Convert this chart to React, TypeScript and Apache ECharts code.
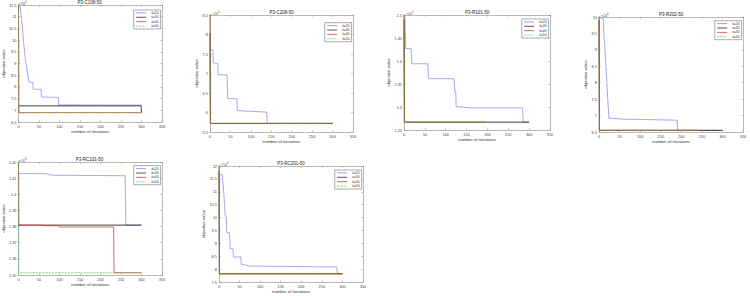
import React, { useEffect, useRef } from "react";
import * as echarts from "echarts";

type Pt = [number, number];

// ---------- texts ----------
const titles = ["P3-C108-50", "P3-C208-50", "P3-R101-50", "P3-R202-50", "P3-RC101-50", "P3-RC201-50"];
const seriesNames = ["it=20", "it=30", "it=40", "it=50"];
const exponents = ["4", "4", "5", "4", "5", "4"];
const xName = "number of iterations";
const yName = "objective value";

// ---------- axes ----------
const xMin = 0;
const xMax = 350;
const xStep = 50;
const yMin = [6.5, 5.5, 1.25, 6.5, 1.35, 7.5];
const yMax = [11.5, 8.5, 1.5, 10, 1.42, 12];
const yStep = [0.5, 0.5, 0.05, 0.5, 0.01, 0.5];

// ---------- data: [iteration, objective value (scaled)] ----------
// P3-C108-50 (x10^4)
const c108_it20: Pt[] = [[0, 11.5], [4, 11.45], [8, 10.8], [12, 10.0], [16, 9.3], [20, 8.8], [23, 8.5], [26, 8.2], [35, 8.2], [36, 7.9], [55, 7.9], [56, 7.57], [97, 7.55], [98, 7.23], [300, 7.22]];
const c108_it30: Pt[] = [[0, 7.19], [299, 7.19], [300, 6.9]];
const c108_it40: Pt[] = [[0, 11.8], [1, 6.9], [300, 6.9]];
const c108_it50: Pt[] = [[0, 11.8], [1, 6.9], [300, 6.9]];

// P3-C208-50 (x10^4)
const c208_it20: Pt[] = [[0, 7.62], [7, 7.6], [8, 7.27], [19, 7.26], [20, 6.97], [42, 6.96], [43, 6.36], [66, 6.35], [67, 6.05], [100, 6.03], [139, 6.01], [140, 5.72], [300, 5.72]];
const c208_it30: Pt[] = [[0, 8.03], [1, 5.72], [300, 5.72]];
const c208_it40: Pt[] = [[0, 8.6], [1, 5.72], [300, 5.72]];
const c208_it50: Pt[] = [[0, 8.6], [1, 5.72], [300, 5.72]];

// P3-R101-50 (x10^5)
const r101_it20: Pt[] = [[0, 1.5], [2, 1.5], [4, 1.427], [17, 1.427], [19, 1.394], [57, 1.394], [59, 1.3615], [120, 1.3615], [122, 1.332], [124, 1.332], [125, 1.301], [158, 1.298], [284, 1.298], [286, 1.267], [300, 1.267]];
const r101_it30: Pt[] = [[0, 1.49], [1, 1.267], [300, 1.267]];
const r101_it40: Pt[] = [[0, 1.52], [1, 1.267], [197, 1.267]];
const r101_it50: Pt[] = [[0, 1.52], [1, 1.267], [197, 1.267]];

// P3-R202-50 (x10^4)
const r202_it20: Pt[] = [[0, 9.97], [10, 9.97], [24, 6.92], [60, 6.89], [190, 6.86], [191, 6.55], [300, 6.55]];
const r202_it30: Pt[] = [[0, 9.9], [1, 6.55], [300, 6.55]];
const r202_it40: Pt[] = [[0, 10.1], [1, 6.55], [245, 6.55]];
const r202_it50: Pt[] = [[0, 10.1], [1, 6.55], [245, 6.55]];

// P3-RC101-50 (x10^5)
const rc101_it20: Pt[] = [[0, 1.4128], [67, 1.4128], [75, 1.4122], [83, 1.4118], [260, 1.4115], [262, 1.3809], [300, 1.3809]];
const rc101_it30: Pt[] = [[0, 1.3809], [300, 1.3809]];
const rc101_it40: Pt[] = [[0, 1.43], [1, 1.3809], [59, 1.3809], [60, 1.3805], [99, 1.3805], [100, 1.3797], [232, 1.3797], [233, 1.3514], [300, 1.3514]];
const rc101_it50: Pt[] = [[0, 1.43], [1, 1.3514], [300, 1.3514]];

// P3-RC201-50 (x10^4)
const rc201_it20: Pt[] = [[0, 11.66], [8, 11.66], [12, 10.9], [15, 10.1], [18, 10.0], [19, 9.41], [26, 9.41], [27, 8.79], [34, 8.79], [35, 8.47], [53, 8.47], [54, 8.19], [75, 8.12], [286, 8.08], [288, 7.82], [300, 7.82]];
const rc201_it30: Pt[] = [[0, 11.8], [1, 7.82], [300, 7.82]];
const rc201_it40: Pt[] = [[0, 12.2], [1, 7.82], [300, 7.82]];
const rc201_it50: Pt[] = [[0, 12.2], [1, 7.82], [300, 7.82]];

const panels: Pt[][][] = [
  [c108_it20, c108_it30, c108_it40, c108_it50],
  [c208_it20, c208_it30, c208_it40, c208_it50],
  [r101_it20, r101_it30, r101_it40, r101_it50],
  [r202_it20, r202_it30, r202_it40, r202_it50],
  [rc101_it20, rc101_it30, rc101_it40, rc101_it50],
  [rc201_it20, rc201_it30, rc201_it40, rc201_it50],
];

// ---------- layout & styles ----------
const W = 750;
const H = 296;
const FONT = "'Liberation Sans', Arial, Helvetica, sans-serif";
const layout = [
  { left: 17, top: 5, width: 145, height: 117, legendTop: 10, yGap: 12 },
  { left: 210, top: 15, width: 143, height: 117, legendTop: 22.7, yGap: 6.5 },
  { left: 404, top: 15, width: 146, height: 115, legendTop: 19, yGap: 10 },
  { left: 599, top: 17, width: 144, height: 115, legendTop: 20.7, yGap: 6 },
  { left: 17, top: 162, width: 145, height: 113, legendTop: 165.7, yGap: 12 },
  { left: 219, top: 166, width: 144, height: 116, legendTop: 170, yGap: 13 },
];
const lineStyles = [
  { color: "#8383e6", width: 0.7, type: "solid" as any },
  { color: "#2a2a2a", width: 0.9, type: "solid" as any },
  { color: "#e5403a", width: 0.8, type: "solid" as any },
  { color: "#38c038", width: 0.8, type: [2, 1.2] as any },
];
const AXIS_COLOR = "#8c8c8c";
const LABEL_COLOR = "#444";

function buildOption() {
  const grid: any[] = [];
  const xAxis: any[] = [];
  const yAxis: any[] = [];
  const series: any[] = [];
  const legend: any[] = [];
  const graphic: any[] = [];

  const axisLine = { show: true, onZero: false, lineStyle: { color: AXIS_COLOR, width: 0.6 } };
  const axisTick = { show: true, inside: true, length: 1.8, lineStyle: { color: AXIS_COLOR, width: 0.5 } };
  const axisLabel = { fontSize: 3.9, color: LABEL_COLOR, margin: 2, fontFamily: FONT };
  const nameTextStyle = { fontSize: 4.3, color: "#333", fontFamily: FONT };

  layout.forEach((g, i) => {
    grid.push({ left: g.left, top: g.top, width: g.width, height: g.height, containLabel: false, show: false });
    xAxis.push({
      type: "value", gridIndex: i, position: "bottom", min: xMin, max: xMax, interval: xStep,
      axisLine, axisTick, axisLabel, splitLine: { show: false },
      name: xName, nameLocation: "middle", nameGap: 7.5, nameTextStyle,
    });
    xAxis.push({
      type: "value", gridIndex: i, position: "top", min: xMin, max: xMax, interval: xStep,
      axisLine, axisTick, axisLabel: { show: false }, splitLine: { show: false },
    });
    yAxis.push({
      type: "value", gridIndex: i, position: "left", min: yMin[i], max: yMax[i], interval: yStep[i],
      axisLine, axisTick, axisLabel, splitLine: { show: false },
      name: yName, nameLocation: "middle", nameGap: g.yGap, nameTextStyle,
    });
    yAxis.push({
      type: "value", gridIndex: i, position: "right", min: yMin[i], max: yMax[i], interval: yStep[i],
      axisLine, axisTick, axisLabel: { show: false }, splitLine: { show: false },
    });

    panels[i].forEach((pts, s) => {
      const ls = lineStyles[s];
      series.push({
        type: "line", name: seriesNames[s], xAxisIndex: i * 2, yAxisIndex: i * 2,
        data: pts, symbol: "none", showSymbol: false, silent: true, z: 2 + s,
        color: ls.color,
        itemStyle: { color: ls.color },
        lineStyle: { color: ls.color, width: ls.width, type: ls.type, opacity: s === 3 ? 0.85 : 1 },
      });
    });

    legend.push({
      data: seriesNames, orient: "vertical",
      right: W - (g.left + g.width) + 1.4, top: g.legendTop,
      itemWidth: 10, itemHeight: 4, itemGap: 1.2,
      padding: [1.3, 2, 1.3, 2],
      borderColor: "#555", borderWidth: 0.5, backgroundColor: "#fff",
      selectedMode: false,
      itemStyle: { opacity: 0 },
      lineStyle: { width: 0.8 },
      textStyle: { fontSize: 3.4, color: "#333", fontFamily: FONT },
    });

    graphic.push({
      type: "text", x: g.left + g.width / 2, y: g.top - 2.6, silent: true,
      style: { text: titles[i], fontSize: 4.5, fill: "#222", align: "center", verticalAlign: "middle", fontFamily: FONT },
    });
    graphic.push({
      type: "text", x: g.left + 1.8, y: g.top - 0.8, silent: true,
      style: { text: "×10", fontSize: 3.6, fill: LABEL_COLOR, align: "left", verticalAlign: "middle", fontFamily: FONT },
    });
    graphic.push({
      type: "text", x: g.left + 8.1, y: g.top - 2.4, silent: true,
      style: { text: exponents[i], fontSize: 2.7, fill: LABEL_COLOR, align: "left", verticalAlign: "middle", fontFamily: FONT },
    });
  });

  return {
    animation: false,
    backgroundColor: "#ffffff",
    textStyle: { fontFamily: FONT },
    grid, xAxis, yAxis, series, legend, graphic,
  };
}

export default function App() {
  const ref = useRef<HTMLDivElement>(null);
  useEffect(() => {
    if (!ref.current) return;
    const chart = echarts.init(ref.current, undefined, { renderer: "svg", width: W, height: H });
    chart.setOption(buildOption() as any);
    return () => chart.dispose();
  }, []);
  return (
    <div
      ref={ref}
      style={{ position: "absolute", left: 0, top: 0, width: W, height: H, background: "#fff" }}
    />
  );
}
